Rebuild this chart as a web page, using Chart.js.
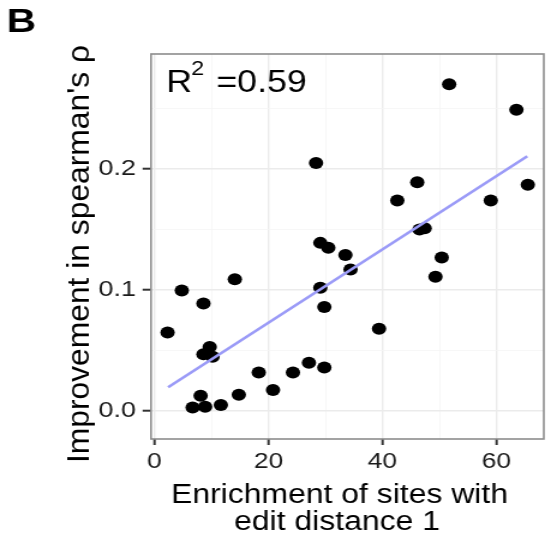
<!DOCTYPE html>
<html>
<head>
<meta charset="utf-8">
<script src="https://cdn.jsdelivr.net/npm/chart.js@4/dist/chart.umd.min.js"></script>
<style>
  html, body { margin: 0; padding: 0; background: #fff; overflow: hidden; }
  /* the reference figure is a bit wider than tall, so stretch the canvas sideways */
  #wrap { width: 459px; height: 540px; transform: scaleX(1.2004); transform-origin: 0 0; }
</style>
</head>
<body>
<div id="wrap"><canvas id="chart" width="459" height="540"></canvas></div>
<script>
// ─── data ─────────────────────────────────────────
const enrichment = [51.7, 63.5, 28.35, 46.1, 65.5, 42.6, 59.0, 46.5, 47.4, 29.1, 30.5, 33.5,
  50.4, 34.4, 49.3, 14.1, 29.1, 4.8, 8.6, 29.8, 39.4, 2.3, 9.7, 8.6, 10.2, 27.1, 29.8,
  18.3, 24.3, 20.8, 14.8, 8.1, 11.65, 6.7, 8.9];
const improvement = [0.270, 0.249, 0.205, 0.189, 0.187, 0.174, 0.174, 0.150, 0.151, 0.139, 0.135, 0.129,
  0.127, 0.117, 0.111, 0.109, 0.102, 0.0996, 0.089, 0.086, 0.068, 0.065, 0.053, 0.047, 0.045, 0.040, 0.036,
  0.032, 0.032, 0.0175, 0.0136, 0.0128, 0.005, 0.003, 0.0037];

// ends of the fitted line
const fitX = [2.4, 65.4];
const fitY = [0.0197, 0.2105];

const xMajor = [0, 20, 40, 60];
const xMinor = [10, 30, 50];
const xTickLabels = ["0", "20", "40", "60"];
const yMajor = [0, 0.1, 0.2];
const yMinor = [0.05, 0.15, 0.25];
const yTickLabels = ["0.0", "0.1", "0.2"];

const xTitle = ["Enrichment of sites with", "edit distance 1"];
const yTitle = "Improvement in spearman's \u03c1";

const FONT = "'Liberation Sans', Arial, sans-serif";
const SX = 1.2004; // css stretch of the wrapper

function majorIndex(list, v) {
  return list.findIndex((m) => Math.abs(m - v) < 1e-9);
}

function gridOpts(major) {
  return {
    color: (ctx) => majorIndex(major, ctx.tick.value) >= 0 ? "#ebebeb" : "#f5f5f5",
    lineWidth: (ctx) => majorIndex(major, ctx.tick.value) >= 0 ? 1.4 : 0.8,
    tickColor: (ctx) => majorIndex(major, ctx.tick.value) >= 0 ? "#333" : "rgba(0,0,0,0)",
    tickWidth: 2,
    drawTicks: true
  };
}

// text squeezed/stretched along its own direction
function fitText(ctx, text, x, y, scale, align) {
  ctx.save();
  ctx.translate(x, y);
  ctx.scale(scale, 1);
  ctx.textAlign = align;
  ctx.fillText(text, 0, 0);
  ctx.restore();
}

// panel border, axis titles, panel letter and the R^2 note
const extrasPlugin = {
  id: "extras",
  afterDatasetsDraw(chart) {
    const { ctx, chartArea: a } = chart;
    ctx.save();
    ctx.strokeStyle = "#8c8c8c";
    ctx.lineWidth = 1.6;
    ctx.strokeRect(a.left, a.top, a.right - a.left, a.bottom - a.top);

    ctx.fillStyle = "#000";
    ctx.textBaseline = "alphabetic";
    ctx.textAlign = "left";
    ctx.font = "bold 34px " + FONT;
    ctx.fillText("B", 5.5, 32);

    // R^2 = 0.59
    ctx.font = "32px " + FONT;
    fitText(ctx, "R", 138.5, 91.7, 0.93, "left");
    ctx.font = "21px " + FONT;
    fitText(ctx, "2", 159.3, 75, 0.93, "left");
    ctx.font = "32px " + FONT;
    fitText(ctx, "=0.59", 180.2, 91.7, 0.93, "left");

    // x title, two lines
    ctx.font = "27px " + FONT;
    const w1 = ctx.measureText(xTitle[0]).width;
    const kx = (337 / SX) / w1;
    fitText(ctx, xTitle[0], 339.5 / SX, 503, kx, "center");
    fitText(ctx, xTitle[1], 337 / SX, 530, kx, "center");

    // y title, rotated
    ctx.font = "26px " + FONT;
    const wy = ctx.measureText(yTitle).width;
    ctx.save();
    ctx.translate(89 / SX, 254);
    ctx.rotate(-Math.PI / 2);
    ctx.scale(418 / wy, 1);
    ctx.textAlign = "center";
    ctx.fillText(yTitle, 0, 0);
    ctx.restore();

    ctx.restore();
  }
};

new Chart(document.getElementById("chart"), {
  type: "scatter",
  data: {
    datasets: [
      {
        type: "line",
        data: fitX.map((x, i) => ({ x: x, y: fitY[i] })),
        borderColor: "#9b9bf7",
        borderWidth: 2.6,
        pointRadius: 0,
        fill: false,
        order: 0
      },
      {
        data: enrichment.map((x, i) => ({ x: x, y: improvement[i] })),
        backgroundColor: "#000",
        borderColor: "#000",
        borderWidth: 0,
        pointRadius: 6,
        order: 1
      }
    ]
  },
  plugins: [extrasPlugin],
  options: {
    responsive: false,
    animation: false,
    layout: { padding: { left: 0, top: 54, right: 1.5, bottom: 0 } },
    plugins: { legend: { display: false }, tooltip: { enabled: false } },
    scales: {
      x: {
        type: "linear",
        min: -0.6,
        max: 68.3,
        afterBuildTicks: (scale) => {
          scale.ticks = xMajor.concat(xMinor).sort((p, q) => p - q).map((v) => ({ value: v }));
        },
        afterFit: (scale) => { scale.height = 101; },
        grid: Object.assign(gridOpts(xMajor), { tickLength: 6 }),
        border: { display: false },
        ticks: {
          autoSkip: false,
          maxRotation: 0,
          padding: 4,
          color: "#1a1a1a",
          font: { family: FONT, size: 22 },
          callback: (v) => { const i = majorIndex(xMajor, v); return i >= 0 ? xTickLabels[i] : ""; }
        },
        title: { display: false }
      },
      y: {
        type: "linear",
        min: -0.023,
        max: 0.295,
        afterBuildTicks: (scale) => {
          scale.ticks = yMajor.concat(yMinor).sort((p, q) => p - q).map((v) => ({ value: v }));
        },
        afterFit: (scale) => { scale.width = 125.8; },
        grid: Object.assign(gridOpts(yMajor), { tickLength: 7 }),
        border: { display: false },
        ticks: {
          autoSkip: false,
          padding: 5.5,
          color: "#1a1a1a",
          font: { family: FONT, size: 22.5 },
          callback: (v) => { const i = majorIndex(yMajor, v); return i >= 0 ? yTickLabels[i] : ""; }
        },
        title: { display: false }
      }
    }
  }
});
</script>
</body>
</html>
